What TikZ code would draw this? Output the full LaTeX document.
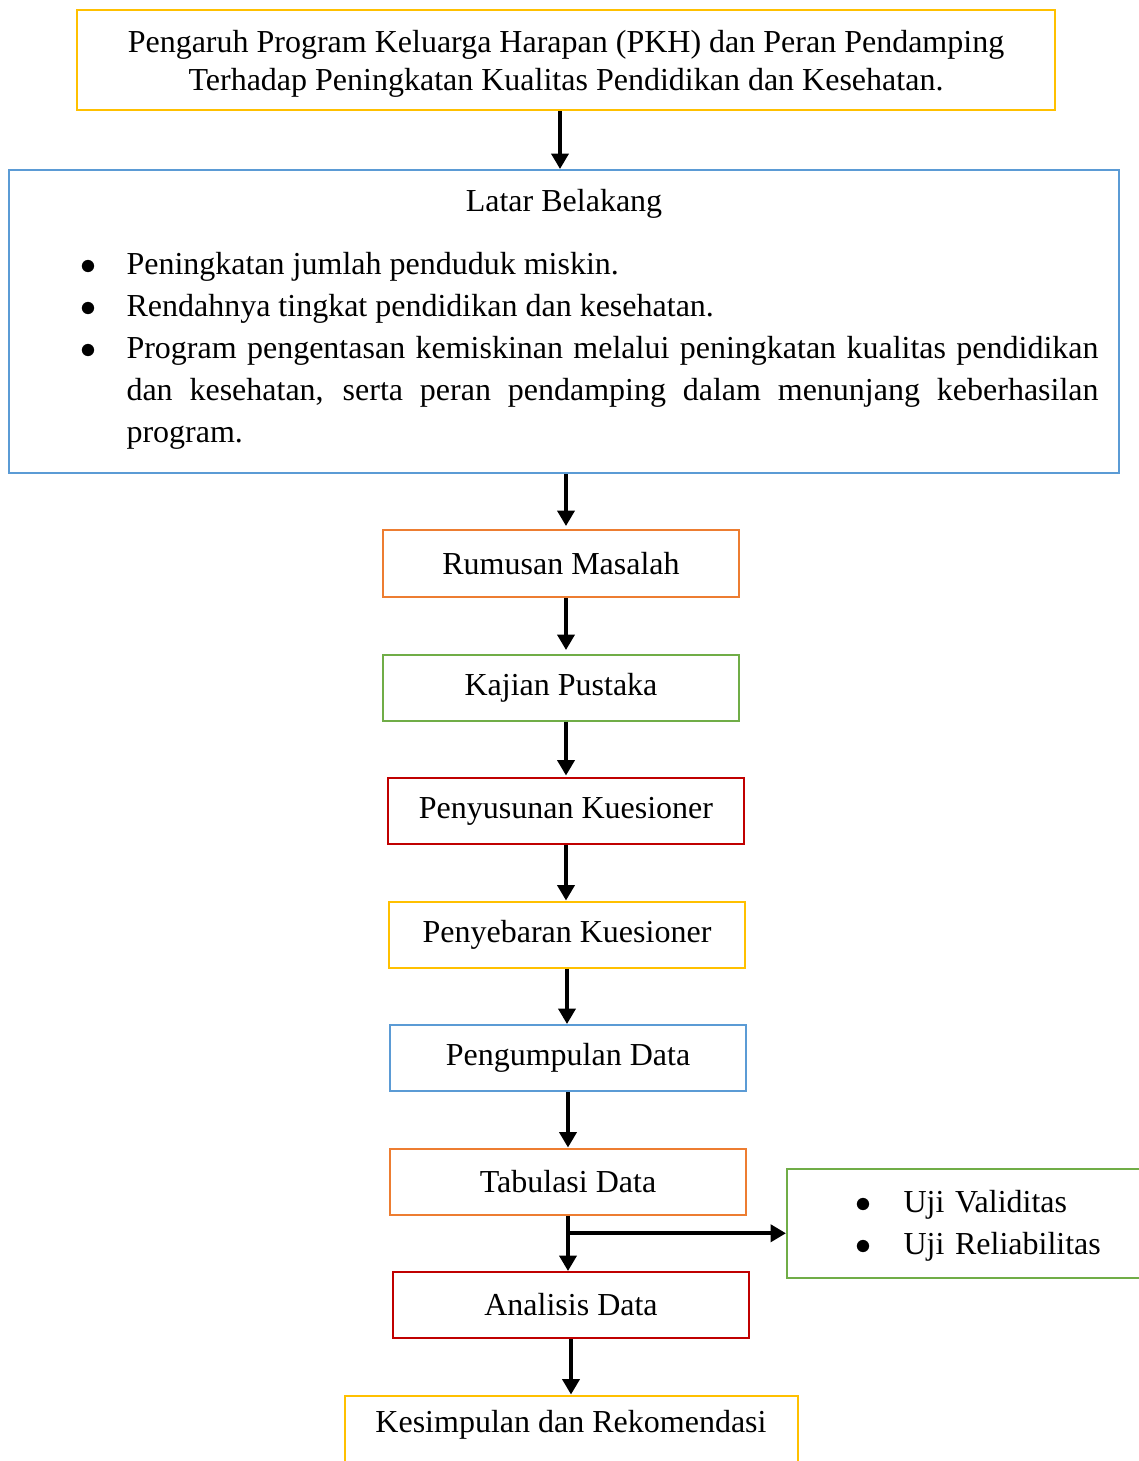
\documentclass[tikz,border=0pt]{standalone}
\usepackage{fontspec}
\setmainfont{Liberation Serif}
\usepackage{xcolor}
\usetikzlibrary{positioning, arrows.meta, calc}

\newdimen\px \px=0.375pt

\definecolor{kuning}{HTML}{FFC000}
\definecolor{biru}{HTML}{5B9BD5}
\definecolor{oranye}{HTML}{ED7D31}
\definecolor{hijau}{HTML}{70AD47}
\definecolor{merah}{HTML}{C00000}

\newenvironment{dotlist}[1]{\setlength\linewidth{\hsize}\begin{list}{$\bullet$}{%
    \setlength\leftmargin{#1}\setlength\labelwidth{#1}\setlength\labelsep{0pt}%
    \setlength\rightmargin{0pt}\setlength\itemsep{0pt}\setlength\parsep{0pt}%
    \setlength\topsep{0pt}\setlength\partopsep{0pt}\renewcommand\makelabel[1]{##1\hfil}}}{\end{list}}

\begin{document}
\begin{tikzpicture}[x=1\px, y=-1\px, node distance=55.5\px,
    every node/.style={font=\fontsize{12}{15.75}\selectfont},
    stepbox/.style={rectangle, draw, line width=2\px, minimum width=356\px, minimum height=66\px, align=center},
    flowarrow/.style={-{Triangle[width=6.4pt,length=5.8pt]}, line width=1.4pt}]
    \useasboundingbox (0,0) rectangle (1138,1461);

    \node[stepbox, draw=kuning, minimum width=978\px, minimum height=100\px, text depth=0pt,
        font=\fontsize{12}{14.25}\selectfont] (judul) at (566,60)
        {Pengaruh Program Keluarga Harapan (PKH) dan Peran Pendamping\\Terhadap Peningkatan Kualitas Pendidikan dan Kesehatan.};

    \node[stepbox, draw=biru, minimum width=1110\px, minimum height=303\px] (latar) at (564,321.5) {};
    \node (latarjudul) at (564,204) {Latar Belakang};
    \node[text width=1018\px, align=justify, inner sep=0pt, anchor=north west] (latarisi) at (80,232) {%
        \begin{dotlist}{46\px}
        \item Peningkatan jumlah penduduk miskin.
        \item Rendahnya tingkat pendidikan dan kesehatan.
        \item Program pengentasan kemiskinan melalui peningkatan kualitas pendidikan\linebreak
              dan kesehatan, serta peran pendamping dalam menunjang keberhasilan\linebreak
              program.
        \end{dotlist}};

    \node[stepbox, draw=oranye, minimum height=67\px] (rumusan) at (561,563.5) {Rumusan Masalah};
    \node[stepbox, draw=hijau, below=of rumusan] (kajian) {Kajian Pustaka};
    \node[stepbox, draw=merah, below=of kajian, xshift=5\px] (penyusunan) {Penyusunan Kuesioner};
    \node[stepbox, draw=kuning, below=of penyusunan, xshift=1\px] (penyebaran) {Penyebaran Kuesioner};
    \node[stepbox, draw=biru, below=of penyebaran, xshift=1\px] (pengumpulan) {Pengumpulan Data};
    \node[stepbox, draw=oranye, below=of pengumpulan] (tabulasi) {Tabulasi Data};
    \node[stepbox, draw=merah, below=of tabulasi, xshift=3\px] (analisis) {Analisis Data};
    \node[stepbox, draw=kuning, below=of analisis, minimum width=453\px, minimum height=0pt,
        inner ysep=5.5pt, text height=8.3pt, text depth=30pt] (kesimpulan) {Kesimpulan dan Rekomendasi};

    \node[stepbox, draw=hijau, minimum width=420\px, minimum height=109\px, anchor=north west] (uji) at (786,1168) {};
    \node[text width=300\px, inner sep=0pt, anchor=north west] (ujiisi) at (855,1170) {%
        \begin{dotlist}{48\px}
        \item Uji Validitas
        \item Uji Reliabilitas
        \end{dotlist}};

    \draw[flowarrow] ($(judul.south)+(-6,0)$) -- ($(judul.south |- latar.north)+(-6,0)$);
    \draw[flowarrow] (latar.south -| rumusan.south) ++(5,0) -- ++(0,52);
    \draw[flowarrow] (rumusan.south) ++(5,0) -- ++(0,52);
    \draw[flowarrow] (kajian.south) ++(5,0) -- ++(0,54);
    \draw[flowarrow] (penyusunan.south) -- (penyusunan.south |- penyebaran.north);
    \draw[flowarrow] (penyebaran.south) -- (penyebaran.south |- pengumpulan.north);
    \draw[flowarrow] (pengumpulan.south) -- (pengumpulan.south |- tabulasi.north);
    \draw[flowarrow] (tabulasi.south) -- (tabulasi.south |- analisis.north);
    \draw[flowarrow] (analisis.south) -- (analisis.south |- kesimpulan.north);

    \coordinate (cabang) at ($(tabulasi.south)!0.32!(tabulasi.south |- analisis.north)$);
    \draw[flowarrow] (cabang) -- (cabang -| uji.west);
\end{tikzpicture}
\end{document}
